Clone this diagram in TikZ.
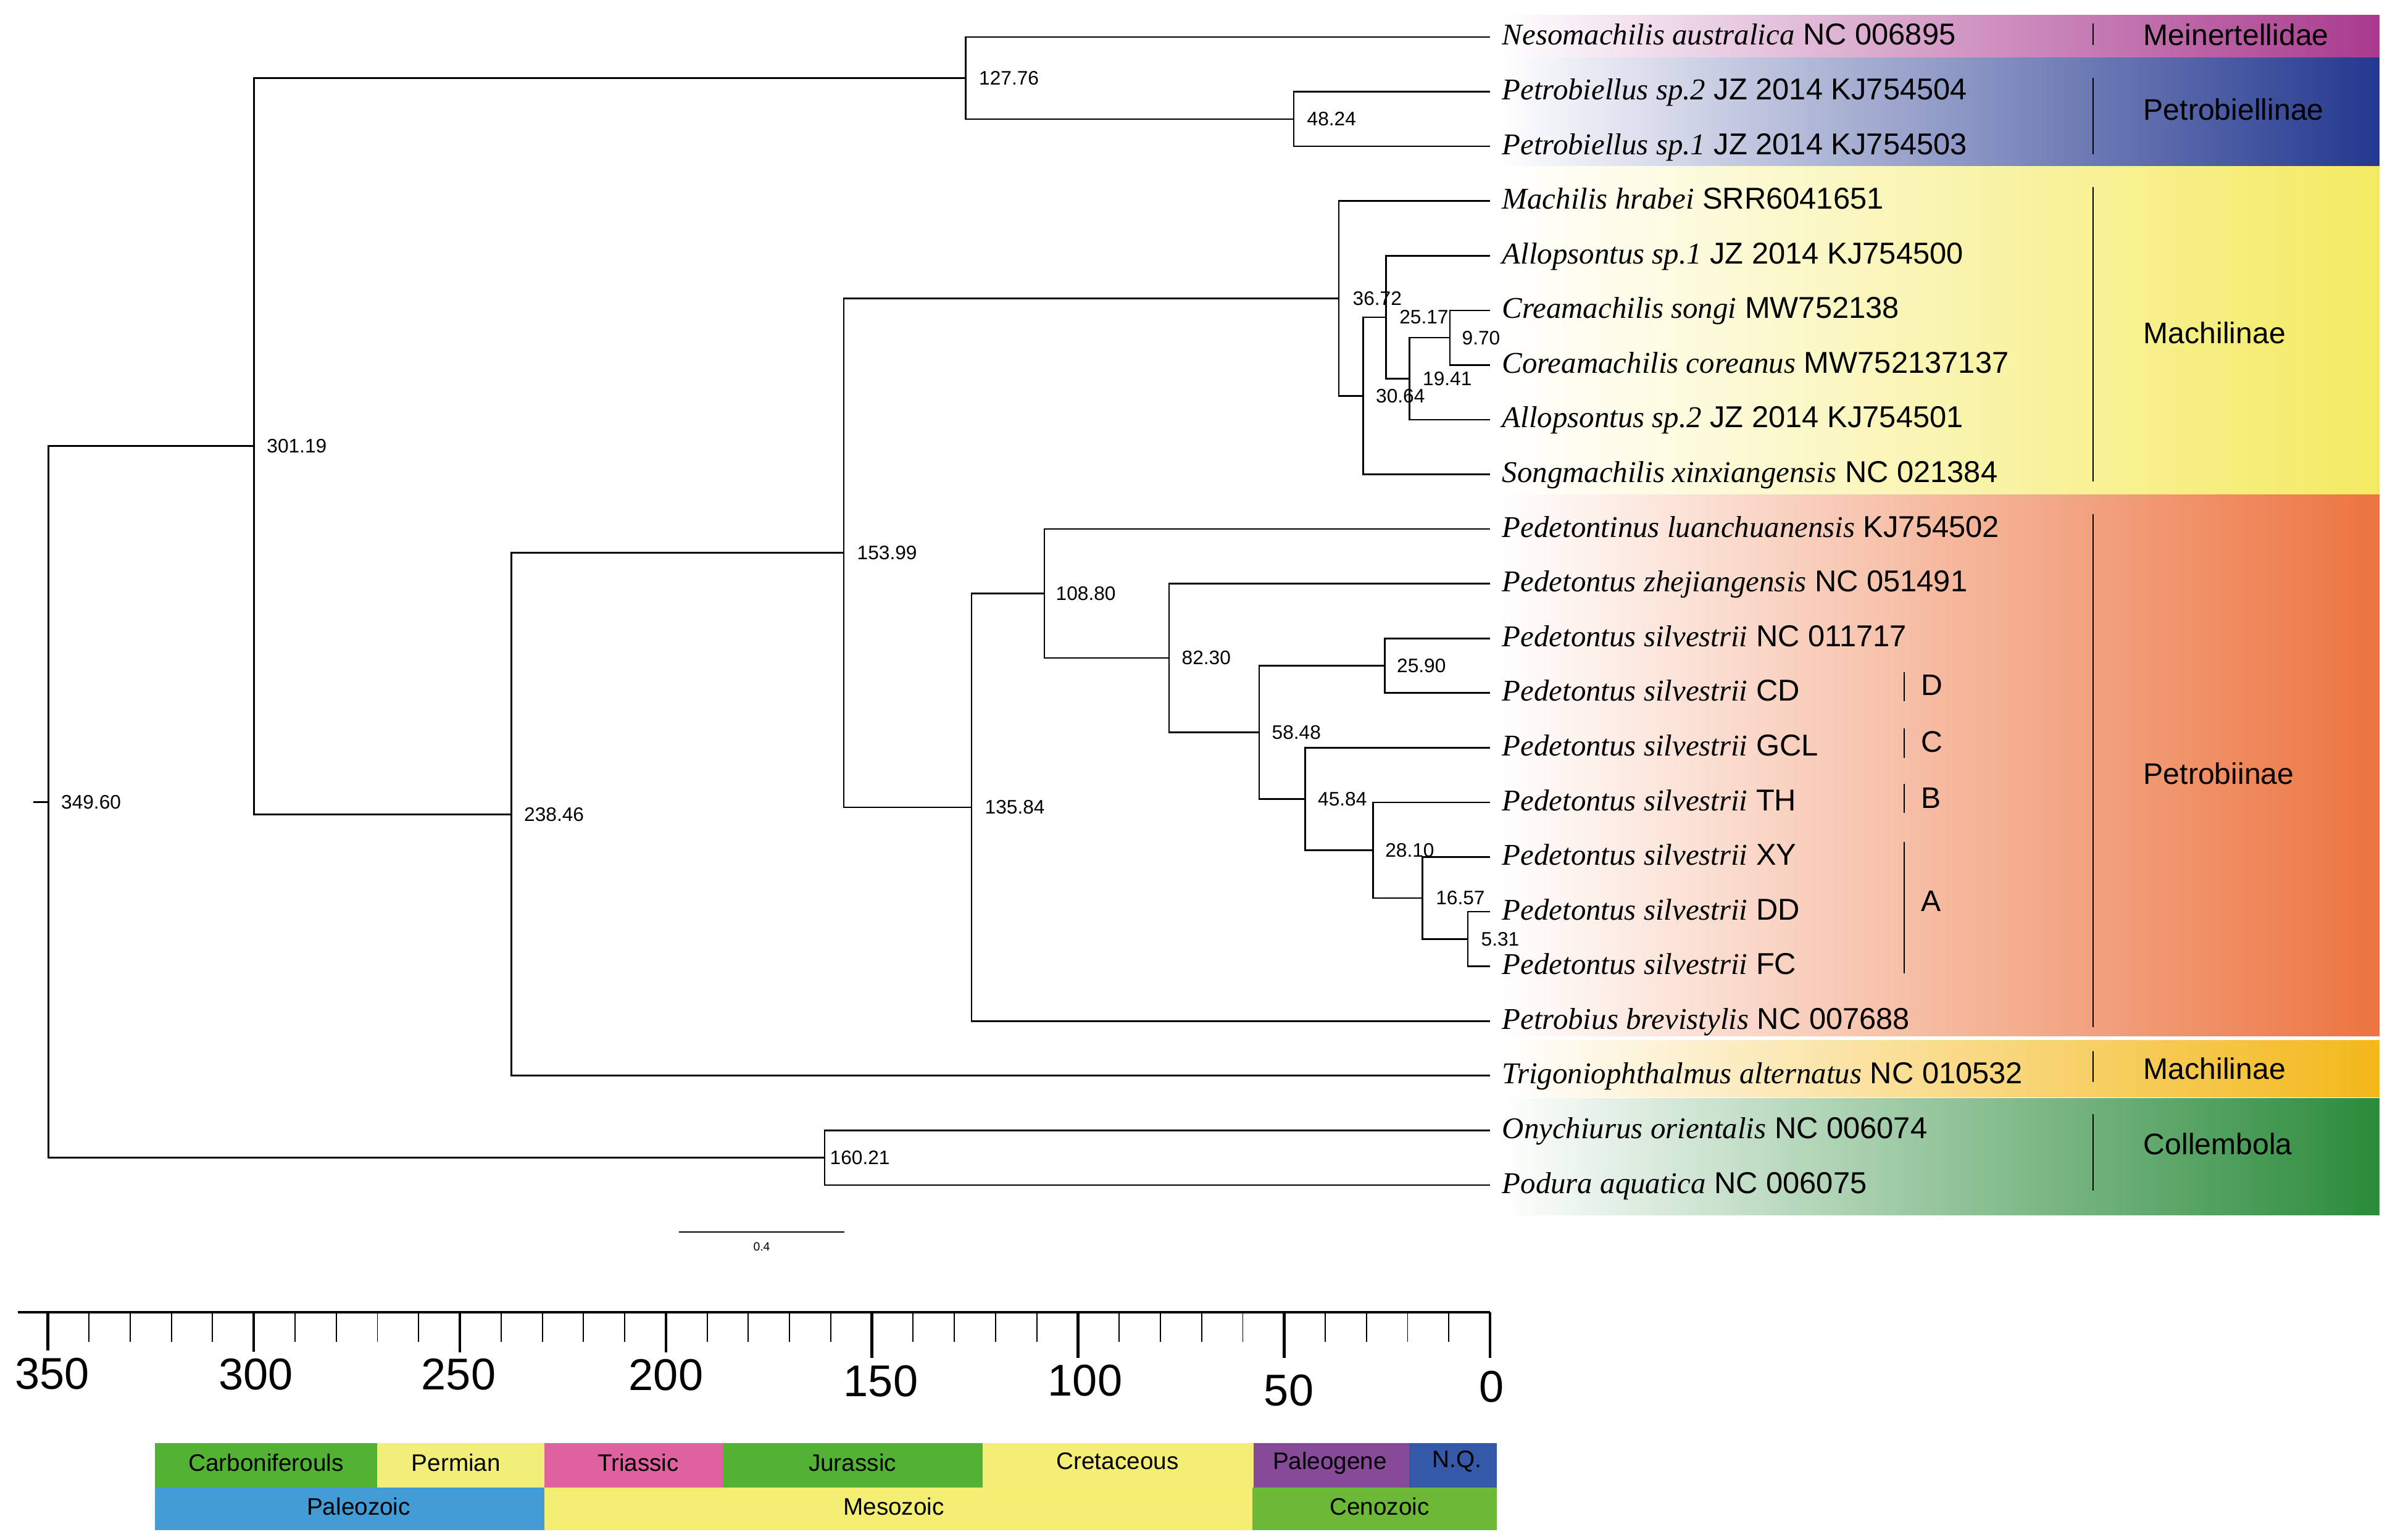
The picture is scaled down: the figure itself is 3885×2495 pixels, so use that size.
\documentclass[tikz,border=0pt]{standalone}
\usepackage{fontspec}
\setmainfont{Liberation Sans}
\newfontfamily\serifit{Liberation Serif}
\usetikzlibrary{calc}
\definecolor{cMein}{RGB}{169,58,142}
\definecolor{cPetB}{RGB}{35,56,143}
\definecolor{cYel}{RGB}{244,234,98}
\definecolor{cOra}{RGB}{236,116,64}
\definecolor{cGold}{RGB}{243,184,26}
\definecolor{cGrn}{RGB}{42,139,58}
\definecolor{gCarb}{RGB}{82,178,51}
\definecolor{gPerm}{RGB}{242,238,122}
\definecolor{gTri}{RGB}{223,98,160}
\definecolor{gJur}{RGB}{82,178,51}
\definecolor{gCret}{RGB}{245,238,118}
\definecolor{gPaleog}{RGB}{134,74,152}
\definecolor{gNQ}{RGB}{52,89,168}
\definecolor{gPaleoz}{RGB}{67,156,214}
\definecolor{gMesoz}{RGB}{244,238,114}
\definecolor{gCenoz}{RGB}{107,185,54}
\newcommand\txn[2]{{\serifit\itshape #1} #2}
\begin{document}
\begin{tikzpicture}[x=0.01cm,y=-0.01cm,
  branch/.style={line width=0.75pt,black},
  agelab/.style={anchor=west,inner sep=0pt,font=\fontsize{9}{10}\selectfont},
  taxon/.style={anchor=base west,inner sep=0pt,font=\fontsize{13.9}{15}\selectfont},
  cladelab/.style={anchor=west,inner sep=0pt,font=\fontsize{13.7}{15}\selectfont},
  cladebar/.style={line width=0.6pt},
  ticklab/.style={inner sep=0pt,font=\fontsize{20.5}{22}\selectfont},
  periodlab/.style={inner sep=0pt,font=\fontsize{11}{12}\selectfont},
]
\useasboundingbox (0,0) rectangle (3885,2495);

% colour bands
\shade[left color=white,right color=cMein] (2430,25) rectangle (3855,93);
\shade[left color=white,right color=cPetB] (2430,94) rectangle (3855,269);
\shade[left color=white,right color=cYel] (2430,270) rectangle (3855,802);
\shade[left color=white,right color=cOra] (2430,802) rectangle (3855,1678);
\shade[left color=white,right color=cGold] (2430,1685) rectangle (3855,1777);
\shade[left color=white,right color=cGrn] (2430,1779) rectangle (3855,1968);

% tips
\foreach \i/\yy in {0/60.0,1/148.6,2/237.1,3/325.7,4/414.3,5/502.9,6/591.4,7/680.0,8/768.6,9/857.1,10/945.7,11/1034.3,12/1122.8,13/1211.4,14/1300.0,15/1388.6,16/1477.1,17/1565.7,18/1654.3,19/1742.8,20/1831.4,21/1920.0}
  \coordinate (t\i) at (2414,\yy);

% internal nodes
\coordinate (n970) at (2349,547.15);
\coordinate (n1941) at (2283.5,613.6);
\coordinate (n2517) at (2245.6,513.95);
\coordinate (n3064) at (2208.5,641.3);
\coordinate (n3672) at (2169,483.5);
\coordinate (n4824) at (2096,192.85);
\coordinate (n12776) at (1564.5,126.4);
\coordinate (n531) at (2378,1521.4);
\coordinate (n1657) at (2304.6,1455);
\coordinate (n2810) at (2224.6,1377.5);
\coordinate (n4584) at (2114.5,1294.45);
\coordinate (n2590) at (2243.5,1078.55);
\coordinate (n5848) at (2040,1186.5);
\coordinate (n8230) at (1894,1066.1);
\coordinate (n10880) at (1692,961.6);
\coordinate (n13584) at (1574,1307.95);
\coordinate (n15399) at (1367,895.7);
\coordinate (n23846) at (828.5,1319.25);
\coordinate (n30119) at (411.7,722.8);
\coordinate (n16021) at (1336,1875.7);
\coordinate (root) at (78.5,1299.25);
\coordinate (rootstub) at (53.6,1299.25);

% branches
\draw[branch] (t5) -| (n970) |- (t6);
\draw[branch] (n970) -| (n1941) |- (t7);
\draw[branch] (t4) -| (n2517) |- (n1941);
\draw[branch] (n2517) -| (n3064) |- (t8);
\draw[branch] (t3) -| (n3672) |- (n3064);
\draw[branch] (t1) -| (n4824) |- (t2);
\draw[branch] (t0) -| (n12776) |- (n4824);
\draw[branch] (t16) -| (n531) |- (t17);
\draw[branch] (t15) -| (n1657) |- (n531);
\draw[branch] (t14) -| (n2810) |- (n1657);
\draw[branch] (t13) -| (n4584) |- (n2810);
\draw[branch] (t11) -| (n2590) |- (t12);
\draw[branch] (n2590) -| (n5848) |- (n4584);
\draw[branch] (t10) -| (n8230) |- (n5848);
\draw[branch] (t9) -| (n10880) |- (n8230);
\draw[branch] (n10880) -| (n13584) |- (t18);
\draw[branch] (n3672) -| (n15399) |- (n13584);
\draw[branch] (n15399) -| (n23846) |- (t19);
\draw[branch] (n12776) -| (n30119) |- (n23846);
\draw[branch] (t20) -| (n16021) |- (t21);
\draw[branch] (n30119) -| (root) |- (n16021);
\draw[branch] (rootstub) -- (root);

% age labels
\node[agelab] (a970) at ($(n970)+(19,0)$) {9.70};
\node[agelab] (a1941) at ($(n1941)+(21,0)$) {19.41};
\node[agelab] (a2517) at ($(n2517)+(21,0)$) {25.17};
\node[agelab] (a3064) at ($(n3064)+(20,0)$) {30.64};
\node[agelab] (a3672) at ($(n3672)+(22,0)$) {36.72};
\node[agelab] (a4824) at ($(n4824)+(21,0)$) {48.24};
\node[agelab] (a12776) at ($(n12776)+(21,0)$) {127.76};
\node[agelab] (a531) at ($(n531)+(21,0)$) {5.31};
\node[agelab] (a1657) at ($(n1657)+(21,0)$) {16.57};
\node[agelab] (a2810) at ($(n2810)+(19,0)$) {28.10};
\node[agelab] (a4584) at ($(n4584)+(20,0)$) {45.84};
\node[agelab] (a2590) at ($(n2590)+(19,0)$) {25.90};
\node[agelab] (a5848) at ($(n5848)+(20,0)$) {58.48};
\node[agelab] (a8230) at ($(n8230)+(20,0)$) {82.30};
\node[agelab] (a10880) at ($(n10880)+(18,0)$) {108.80};
\node[agelab] (a13584) at ($(n13584)+(21,0)$) {135.84};
\node[agelab] (a15399) at ($(n15399)+(21,0)$) {153.99};
\node[agelab] (a23846) at ($(n23846)+(20,0)$) {238.46};
\node[agelab] (a30119) at ($(n30119)+(20,0)$) {301.19};
\node[agelab] (a16021) at ($(n16021)+(8,0)$) {160.21};
\node[agelab] (aroot) at ($(root)+(20,0)$) {349.60};

% taxon labels
\node[taxon] (L0) at (2433,73.0) {\txn{Nesomachilis australica}{NC 006895}};
\node[taxon] (L1) at (2433,161.6) {\txn{Petrobiellus sp.2}{JZ 2014 KJ754504}};
\node[taxon] (L2) at (2433,250.1) {\txn{Petrobiellus sp.1}{JZ 2014 KJ754503}};
\node[taxon] (L3) at (2433,338.7) {\txn{Machilis hrabei}{SRR6041651}};
\node[taxon] (L4) at (2433,427.3) {\txn{Allopsontus sp.1}{JZ 2014 KJ754500}};
\node[taxon] (L5) at (2433,515.9) {\txn{Creamachilis songi}{MW752138}};
\node[taxon] (L6) at (2433,604.4) {\txn{Coreamachilis coreanus}{MW752137137}};
\node[taxon] (L7) at (2433,693.0) {\txn{Allopsontus sp.2}{JZ 2014 KJ754501}};
\node[taxon] (L8) at (2433,781.6) {\txn{Songmachilis xinxiangensis}{NC 021384}};
\node[taxon] (L9) at (2433,870.1) {\txn{Pedetontinus luanchuanensis}{KJ754502}};
\node[taxon] (L10) at (2433,958.7) {\txn{Pedetontus zhejiangensis}{NC 051491}};
\node[taxon] (L11) at (2433,1047.3) {\txn{Pedetontus silvestrii}{NC 011717}};
\node[taxon] (L12) at (2433,1135.8) {\txn{Pedetontus silvestrii}{CD}};
\node[taxon] (L13) at (2433,1224.4) {\txn{Pedetontus silvestrii}{GCL}};
\node[taxon] (L14) at (2433,1313.0) {\txn{Pedetontus silvestrii}{TH}};
\node[taxon] (L15) at (2433,1401.6) {\txn{Pedetontus silvestrii}{XY}};
\node[taxon] (L16) at (2433,1490.1) {\txn{Pedetontus silvestrii}{DD}};
\node[taxon] (L17) at (2433,1578.7) {\txn{Pedetontus silvestrii}{FC}};
\node[taxon] (L18) at (2433,1667.3) {\txn{Petrobius brevistylis}{NC 007688}};
\node[taxon] (L19) at (2433,1755.8) {\txn{Trigoniophthalmus alternatus}{NC 010532}};
\node[taxon] (L20) at (2433,1844.4) {\txn{Onychiurus orientalis}{NC 006074}};
\node[taxon] (L21) at (2433,1933.0) {\txn{Podura aquatica}{NC 006075}};

% clade bars and labels
\draw[cladebar] (3391,38) -- (3391,73);
\draw[cladebar] (3391,126) -- (3391,250);
\draw[cladebar] (3391,303) -- (3391,780);
\draw[cladebar] (3391,833) -- (3391,1664);
\draw[cladebar] (3391,1703) -- (3391,1753);
\draw[cladebar] (3391,1805) -- (3391,1929);
\node[cladelab] (c1) at (3472,56.7) {Meinertellidae};
\node[cladelab] (c2) at (3472,177.5) {Petrobiellinae};
\node[cladelab] (c3) at (3472,539.7) {Machilinae};
\node[cladelab] (c4) at (3472,1253) {Petrobiinae};
\node[cladelab] (c5) at (3472,1731) {Machilinae};
\node[cladelab] (c6) at (3472,1853) {Collembola};

\draw[cladebar] (3085,1089) -- (3085,1136);
\draw[cladebar] (3085,1180) -- (3085,1228);
\draw[cladebar] (3085,1269.5) -- (3085,1316.6);
\draw[cladebar] (3085,1363.7) -- (3085,1576.6);
\node[cladelab] (gD) at (3112,1110) {D};
\node[cladelab] (gC) at (3112,1202) {C};
\node[cladelab] (gB) at (3112,1292.5) {B};
\node[cladelab] (gA) at (3112,1460) {A};

% scale bar
\coordinate (sb1) at (1100,1996);
\coordinate (sb2) at (1368,1996);
\draw[line width=0.7pt] (sb1) -- (sb2);
\node[inner sep=0pt,font=\fontsize{5.5}{6}\selectfont] (sblab) at (1234,2020) {0.4};

% time axis
\coordinate (ax1) at (28.7,2126);
\coordinate (ax2) at (2414,2126);
\draw[line width=1pt] (ax1) -- (ax2);
\foreach \k in {0,...,35}{
  \pgfmathsetmacro\xx{2414-66.76*\k}
  \draw[line width=0.55pt] (\xx,2126) -- (\xx,2174);
}
\foreach \k/\yb in {0/2200,1/2200,2/2200,3/2200,4/2191,5/2191,6/2190,7/2188}{
  \pgfmathsetmacro\xx{2414-333.8*\k}
  \draw[line width=1.3pt] (\xx,2126) -- (\xx,\yb);
}
\node[ticklab] (k350) at (84.5,2226) {350};
\node[ticklab] (k300) at (414.5,2227) {300};
\node[ticklab] (k250) at (743,2227) {250};
\node[ticklab] (k200) at (1079,2228) {200};
\node[ticklab] (k150) at (1427,2238) {150};
\node[ticklab] (k100) at (1758,2237) {100};
\node[ticklab] (k50) at (2088,2253) {50};
\node[ticklab] (k0) at (2417,2247) {0};

% geological time bar
\fill[gCarb] (251,2338) rectangle (611,2410);
\fill[gPerm] (611,2338) rectangle (882,2410);
\fill[gTri] (882,2338) rectangle (1171,2410);
\fill[gJur] (1171,2338) rectangle (1592,2410);
\fill[gCret] (1592,2338) rectangle (2030.6,2410);
\fill[gPaleog] (2030.6,2338) rectangle (2283,2410);
\fill[gNQ] (2283,2338) rectangle (2425,2410);
\fill[gPaleoz] (251,2410) rectangle (882,2479);
\fill[gMesoz] (882,2410) rectangle (2029,2479);
\fill[gCenoz] (2029,2410) rectangle (2425,2479);
\node[periodlab] (pCarb) at (431,2370) {Carboniferouls};
\node[periodlab] (pPerm) at (739,2370) {Permian};
\node[periodlab] (pTri) at (1034,2370) {Triassic};
\node[periodlab] (pJur) at (1381,2370) {Jurassic};
\node[periodlab] (pCret) at (1810.5,2367) {Cretaceous};
\node[periodlab] (pPaleog) at (2154.5,2370) {Paleogene};
\node[periodlab] (pNQ) at (2360.6,2368) {N.Q.};
\node[periodlab] (ePaleoz) at (581,2441) {Paleozoic};
\node[periodlab] (eMesoz) at (1448,2441) {Mesozoic};
\node[periodlab] (eCenoz) at (2235,2441) {Cenozoic};
\end{tikzpicture}
\end{document}
